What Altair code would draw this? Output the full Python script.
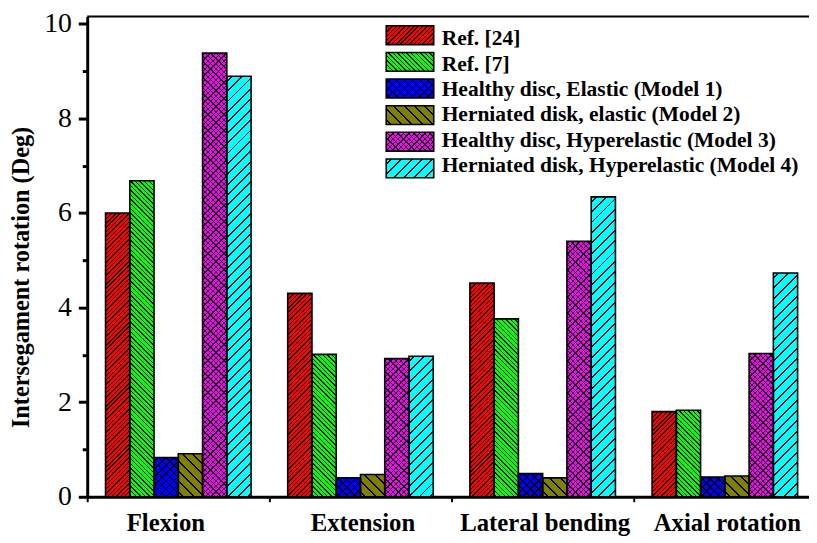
import math
import altair as alt

# ---------------- data ----------------
groups = ["Flexion", "Extension", "Lateral bending", "Axial rotation"]
series = [
    "Ref. [24]",
    "Ref. [7]",
    "Healthy disc, Elastic (Model 1)",
    "Herniated disk, elastic (Model 2)",
    "Healthy disc, Hyperelastic (Model 3)",
    "Herniated disk, Hyperelastic (Model 4)",
]
ref24 = [6.00, 4.30, 4.52, 1.80]
ref7 = [6.68, 3.01, 3.76, 1.83]
model1 = [0.83, 0.40, 0.49, 0.42]
model2 = [0.91, 0.47, 0.40, 0.44]
model3 = [9.38, 2.92, 5.40, 3.03]
model4 = [8.89, 2.97, 6.34, 4.73]
values = [ref24, ref7, model1, model2, model3, model4]

y_ticks = list(range(0, 11))

# ---------------- style ----------------
colors = ["#FF0000", "#00FF00", "#0000FF", "#808000", "#FF00FF", "#00FFFF"]
# (directions, horizontal spacing px, line width px)
hatches = [
    (["/"], 4.4, 1.0),
    (["\\"], 4.6, 1.0),
    (["/", "\\"], 8.0, 1.1),
    (["\\"], 10.5, 1.4),
    (["/", "\\"], 5.4, 0.95),
    (["/"], 10.5, 1.4),
]
FONT = "Liberation Serif"
BAND = 184.0
W_PLOT, H_PLOT = int(BAND * len(groups)), 485
Y_MAX = 10.15
PAD_OUT = 0.755
BAR_W = BAND / (len(series) + 2 * PAD_OUT)


def stripes(w, h, direction, spacing_h, lw, bg, fg="#000000"):
    """Linear gradient (bbox units) that draws 45deg hatch lines on a w x h box."""
    r2 = math.sqrt(2.0)
    if direction == "/":
        nx, ny = 1 / r2, 1 / r2
        p1 = (0.0, 0.0)
    else:
        nx, ny = 1 / r2, -1 / r2
        p1 = (0.0, 1.0)
    L = (w + h) / r2
    ax, ay = nx * w, ny * h
    a2 = ax * ax + ay * ay
    dx, dy = ax * L / a2, ay * L / a2
    sp = spacing_h / r2
    half = lw / 2.0
    stops = [{"offset": 0, "color": bg}]
    pos = sp * 0.5
    while pos - half < L:
        a = max(0.0, (pos - half) / L)
        b = min(1.0, (pos + half) / L)
        stops += [
            {"offset": round(a, 6), "color": bg},
            {"offset": round(a, 6), "color": fg},
            {"offset": round(b, 6), "color": fg},
            {"offset": round(b, 6), "color": bg},
        ]
        pos += sp
    stops.append({"offset": 1, "color": bg})
    return {
        "gradient": "linear",
        "x1": p1[0],
        "y1": p1[1],
        "x2": round(p1[0] + dx, 6),
        "y2": round(p1[1] + dy, 6),
        "stops": stops,
    }


def fills(si, w, h):
    dirs, sp, lw = hatches[si]
    g1 = stripes(w, max(h, 1.0), dirs[0], sp, lw, colors[si])
    if len(dirs) > 1:
        g2 = stripes(w, max(h, 1.0), dirs[1], sp, lw, "transparent")
    else:
        g2 = "transparent"
    return g1, g2


rows = []
for gi, g in enumerate(groups):
    for si, s in enumerate(series):
        v = values[si][gi]
        g1, g2 = fills(si, BAR_W, v / Y_MAX * H_PLOT)
        rows.append({"group": g, "series": s, "value": v, "g1": g1, "g2": g2})

leg_rows = []
for si, s in enumerate(series):
    g1, g2 = fills(si, 48, 19)
    leg_rows.append({"series": s, "g1": g1, "g2": g2})

# ---------------- chart ----------------
bars_data = alt.Data(values=rows)
leg_data = alt.Data(values=leg_rows)

x_enc = alt.X(
    "group:N",
    sort=groups,
    scale=alt.Scale(paddingInner=0, paddingOuter=0),
    axis=alt.Axis(
        title=None,
        bandPosition=0,
        labelOffset={"condition": {"test": "datum.value === 'Flexion'", "value": -12.5}, "value": 2.5},
        tickSize=5,
        tickWidth=2,
        tickColor="black",
        domainWidth=3,
        domainColor="black",
        labelFont=FONT,
        labelFontSize=25,
        labelFontWeight="bold",
        labelColor="black",
        labelBaseline="alphabetic",
        labelAlign="center",
        labelPadding=29,
        labelAngle=0,
        labelOverlap=False,
        labelLimit=0,
        grid=False,
    ),
)
x_off = alt.XOffset(
    "series:N", sort=series, scale=alt.Scale(paddingInner=0, paddingOuter=PAD_OUT)
)
y_scale = alt.Scale(domain=[0, Y_MAX], nice=False, zero=True)
y_axis = alt.Axis(
    orient="left",
    values=y_ticks,
    title="Intersegament rotation (Deg)",
    labelExpr="datum.value % 2 == 0 ? datum.label : ''",
    tickSize={"condition": {"test": "datum.value % 2 != 0", "value": 5}, "value": 9},
    tickWidth=3,
    tickColor="black",
    domainWidth=3,
    domainColor="black",
    labelFont=FONT,
    labelFontSize=28,
    labelFontWeight="normal",
    labelColor="black",
    labelPadding=7,
    titleFont=FONT,
    titleFontSize=24.5,
    titleFontWeight="bold",
    titleColor="black",
    titleAngle=270,
    titleBaseline="alphabetic",
    titleAlign="center",
    titleX=-59,
    titleY=263,
    grid=False,
)

bars1 = alt.Chart(bars_data).mark_bar(strokeWidth=0).encode(
    x=x_enc,
    xOffset=x_off,
    y=alt.Y("value:Q", scale=y_scale, axis=y_axis, stack=None),
    fill=alt.Fill("g1:N", scale=None),
)
bars2 = alt.Chart(bars_data).mark_bar(stroke="black", strokeWidth=1.6).encode(
    x=x_enc,
    xOffset=x_off,
    y=alt.Y("value:Q", scale=y_scale, axis=None, stack=None),
    fill=alt.Fill("g2:N", scale=None),
)
frame_top = alt.Chart(alt.Data(values=[{"top": Y_MAX}])).mark_rule(
    color="black", strokeWidth=2
).encode(y=alt.Y("top:Q", scale=y_scale, axis=None))

leg_y = alt.Y(
    "series:N",
    sort=series,
    scale=alt.Scale(domain=series, range=[9.3, 162.8], paddingInner=0.2937, paddingOuter=0),
    axis=None,
)
leg1 = alt.Chart(leg_data).mark_rect(strokeWidth=0).encode(
    x=alt.value(302), x2=alt.value(350), y=leg_y, fill=alt.Fill("g1:N", scale=None)
)
leg2 = alt.Chart(leg_data).mark_rect(stroke="black", strokeWidth=1.6).encode(
    x=alt.value(302), x2=alt.value(350), y=leg_y, fill=alt.Fill("g2:N", scale=None)
)
leg_text = alt.Chart(leg_data).mark_text(
    align="left", baseline="middle", font=FONT, fontSize=21.7, fontWeight="bold", color="black"
).encode(x=alt.value(358), y=leg_y, text="series:N")

chart = (
    alt.layer(bars1, bars2, frame_top, leg1, leg2, leg_text)
    .resolve_scale(y="independent")
    .properties(
        width=W_PLOT,
        height=H_PLOT,
        autosize=alt.AutoSizeParams(type="none"),
        padding={"left": 80, "top": 6, "right": -7, "bottom": 44},
        background="white",
    )
    .configure_view(stroke=None)
)

chart.save("out.html", embed_options={"renderer": "svg", "actions": False})
